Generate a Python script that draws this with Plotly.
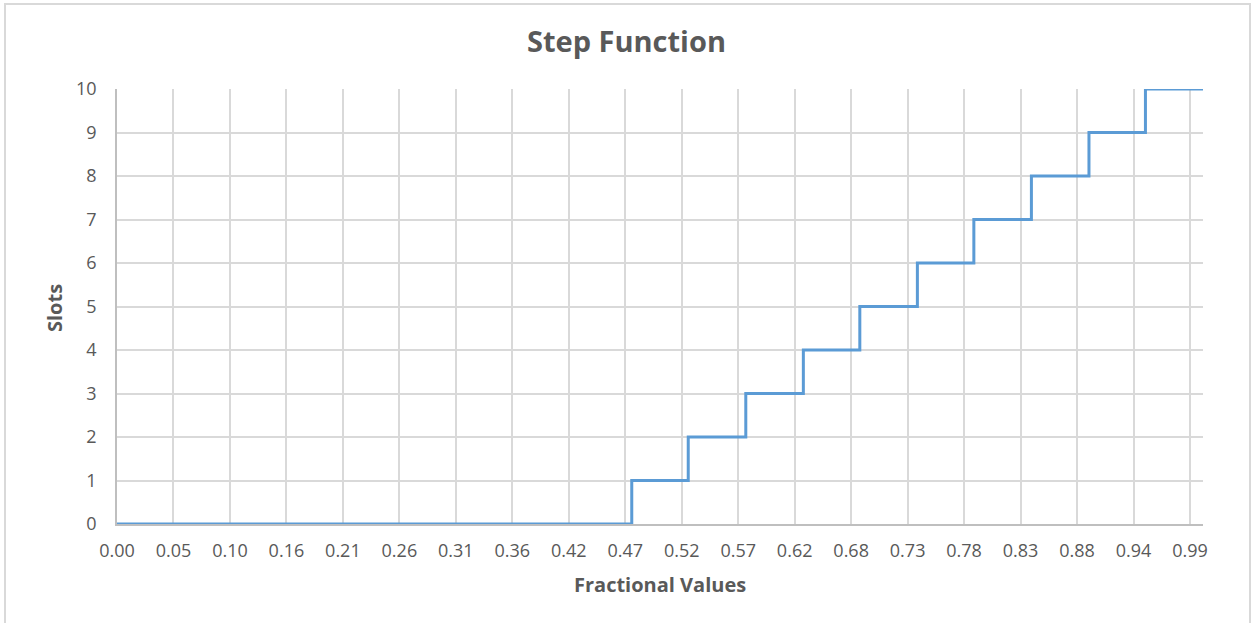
import plotly.graph_objects as go

# Data
x_breaks = [0.0, 0.474, 0.526, 0.579, 0.632, 0.684, 0.737, 0.789, 0.842, 0.895, 0.947, 1.0]
slots = [0, 1, 2, 3, 4, 5, 6, 7, 8, 9, 10, 10]
tick_labels = ["0.00", "0.05", "0.10", "0.16", "0.21", "0.26", "0.31", "0.36", "0.42", "0.47",
               "0.52", "0.57", "0.62", "0.68", "0.73", "0.78", "0.83", "0.88", "0.94", "0.99"]
tick_step = 0.052

W, H = 1253, 623
L, R, T, B = 117, 50, 89, 99
pw, ph = W - L - R, H - T - B

FONT = "Open Sans"
GREY = "#595959"
GRID = "#d9d9d9"

fig = go.Figure()
fig.add_trace(go.Scatter(
    x=x_breaks, y=slots, mode="lines", line_shape="hv",
    line=dict(color="#5b9bd5", width=3), showlegend=False, hoverinfo="x+y",
))

fig.update_layout(
    width=W, height=H,
    margin=dict(l=L, r=R, t=T, b=B, pad=0),
    paper_bgcolor="white", plot_bgcolor="white",
    font=dict(family=FONT, color=GREY, size=18),
    title=dict(text="<b>Step Function</b>", x=0.5, xref="container", xanchor="center",
               y=1 - 42 / H, yref="container", yanchor="middle",
               font=dict(family=FONT, size=29, color=GREY)),
    xaxis=dict(
        range=[0, 1.0], tickmode="array",
        tickvals=[i * tick_step for i in range(len(tick_labels))], ticktext=tick_labels,
        showgrid=True, gridcolor=GRID, gridwidth=1.5,
        showline=True, linecolor="#bfbfbf", linewidth=1.5,
        zeroline=False, ticks="", ticklabelstandoff=10,
        tickfont=dict(family=FONT, size=18, color=GREY),
    ),
    yaxis=dict(
        range=[0, 10], dtick=1, tick0=0,
        showgrid=True, gridcolor=GRID, gridwidth=1.5,
        showline=True, linecolor="#bfbfbf", linewidth=1.5,
        zeroline=False, ticks="", ticklabelstandoff=15,
        tickfont=dict(family=FONT, size=18, color=GREY),
    ),
    annotations=[
        dict(text="<b>Fractional Values</b>", xref="paper", yref="paper",
             x=(660 - L) / pw, y=(H - B - 584) / ph, xanchor="center", yanchor="middle",
             showarrow=False, font=dict(family=FONT, size=20, color=GREY)),
        dict(text="<b>Slots</b>", xref="paper", yref="paper",
             x=(54 - L) / pw, y=(H - B - 308) / ph, xanchor="center", yanchor="middle",
             textangle=-90, showarrow=False, font=dict(family=FONT, size=20, color=GREY)),
    ],
    shapes=[
        dict(type="rect", xref="paper", yref="paper",
             x0=(5 - L) / pw, x1=(1250 - L) / pw,
             y0=(H - B - 660) / ph, y1=(H - B - 4) / ph,
             line=dict(color=GRID, width=2), fillcolor="rgba(0,0,0,0)", layer="below"),
    ],
)

fig.write_html("out.html", config={"displayModeBar": False},
               post_script="document.body.style.margin='0';document.body.style.overflow='hidden';")
